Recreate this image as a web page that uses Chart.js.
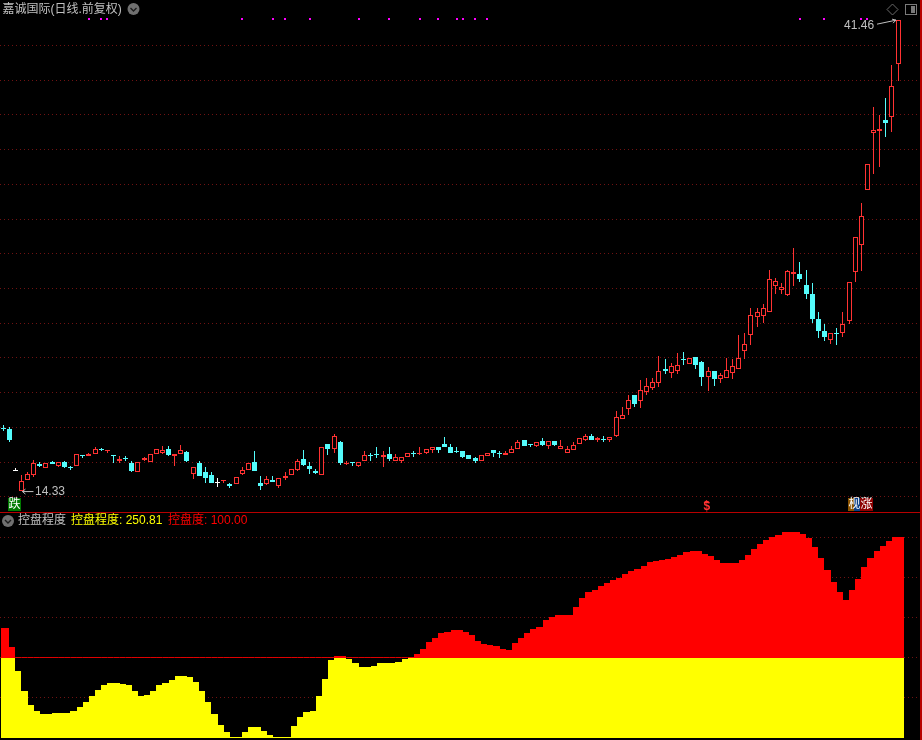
<!DOCTYPE html>
<html>
<head>
<meta charset="utf-8">
<title>嘉诚国际</title>
<script src="https://cdn.jsdelivr.net/npm/chart.js@4/dist/chart.umd.js"></script>
<style>
  html, body { margin: 0; padding: 0; background: #000; }
  canvas { position: absolute; left: 0; }
  #price { top: 0; }
  #control { top: 513px; }
</style>
</head>
<body>
<canvas id="price" width="922" height="513"></canvas>
<canvas id="control" width="922" height="227"></canvas>
<script>
var opens = [17.97,17.93,15.55,14.33,14.96,15.26,15.90,15.65,16.03,15.76,16.03,15.71,15.78,16.42,16.36,16.49,16.74,16.61,16.40,16.07,
  16.22,15.92,15.42,16.11,15.99,16.49,16.55,16.76,16.36,16.45,16.57,15.30,15.92,15.40,15.28,14.84,14.95,14.75,14.73,15.34,
  15.57,16.03,14.82,14.73,14.99,14.65,15.07,15.24,15.53,16.15,15.75,15.46,15.23,17.07,16.73,17.13,15.90,16.00,15.75,16.04,
  16.40,16.46,16.27,16.44,16.04,16.04,16.27,16.50,16.46,16.50,16.67,16.84,17.07,16.84,16.65,16.61,16.38,16.21,16.04,16.34,
  16.67,16.54,16.40,16.55,16.78,17.30,17.02,16.90,17.19,16.90,17.19,16.78,16.55,16.67,17.07,17.25,17.48,17.25,17.32,17.25,
  17.53,18.47,19.03,19.89,19.51,20.03,20.26,20.55,21.39,21.12,21.22,21.93,21.64,22.08,21.74,20.89,21.27,20.78,20.87,21.16,
  21.39,22.39,23.35,24.33,24.39,24.67,26.13,25.90,25.65,26.86,26.81,26.23,25.71,24.27,23.58,23.06,23.46,23.41,24.10,26.94,
  28.50,31.67,34.95,35.06,35.68,35.87,38.94];
var highs = [18.11,18.01,15.67,15.28,15.42,16.13,16.00,15.96,16.09,16.03,16.09,15.80,16.47,16.42,16.51,16.84,16.82,16.72,16.40,16.36,
  16.34,16.07,15.98,16.30,16.49,16.78,16.95,16.90,16.49,17.01,16.61,15.74,16.09,15.71,15.40,15.11,14.97,14.82,15.15,15.69,
  15.96,16.61,15.17,15.20,15.20,15.09,15.40,15.63,16.15,16.67,15.98,15.58,16.84,17.07,17.59,17.19,16.04,16.00,15.98,16.61,
  16.50,16.84,16.61,16.84,16.44,16.32,16.55,16.61,16.84,16.77,16.84,16.84,17.42,17.02,16.84,16.61,16.38,16.27,16.38,16.55,
  16.67,16.61,16.61,16.90,17.30,17.30,17.07,17.13,17.36,17.19,17.19,17.25,16.90,17.13,17.36,17.59,17.59,17.42,17.48,17.42,
  18.95,19.20,19.84,19.89,20.70,20.82,20.82,22.14,21.91,21.68,22.26,22.37,22.00,22.08,21.85,21.45,21.27,21.16,22.02,21.91,
  23.35,23.41,24.90,24.85,25.13,27.04,26.63,26.29,27.09,28.36,27.55,27.09,26.29,24.67,23.98,23.46,23.75,24.62,26.35,28.99,
  30.95,33.18,36.48,36.02,36.95,38.90,41.46];
var lows = [17.78,17.15,15.55,14.33,14.94,15.13,15.71,15.65,15.88,15.74,15.67,15.57,15.78,16.22,16.36,16.45,16.63,16.51,15.94,15.94,
  16.09,15.40,15.42,16.09,15.99,16.45,16.49,16.34,15.80,16.45,16.03,15.05,15.19,14.82,14.82,14.59,14.82,14.53,14.73,15.23,
  15.55,15.46,14.42,14.69,14.88,14.53,14.99,15.24,15.49,15.75,15.29,15.29,15.23,16.38,16.55,15.86,15.81,15.75,15.69,16.04,
  16.09,16.21,15.69,16.09,16.04,15.92,16.27,16.32,16.38,16.44,16.55,16.50,16.84,16.55,16.55,16.21,16.15,15.92,16.04,16.34,
  16.32,16.21,16.40,16.55,16.78,16.90,16.84,16.84,16.90,16.78,16.90,16.78,16.50,16.67,17.07,17.19,17.30,17.13,17.13,17.13,
  17.47,18.47,18.69,19.15,19.09,19.89,20.13,20.32,21.05,20.82,21.05,21.62,21.64,21.39,20.41,20.07,20.41,20.58,20.87,20.76,
  21.39,21.91,22.72,23.81,24.04,24.62,25.71,25.71,25.54,26.17,26.40,25.37,24.04,23.12,22.95,22.83,22.77,23.23,23.98,26.40,
  27.00,31.67,32.59,32.99,34.72,34.99,37.98];
var closes = [17.93,17.30,15.55,14.92,15.32,15.96,15.80,15.96,15.88,16.01,15.71,15.67,16.47,16.38,16.44,16.78,16.70,16.72,16.36,16.15,
  16.18,15.46,15.98,16.22,16.49,16.76,16.70,16.40,16.49,16.70,16.09,15.74,15.19,15.11,14.82,14.84,14.97,14.61,15.15,15.55,
  15.96,15.51,14.65,15.03,14.88,15.09,15.20,15.63,16.09,15.81,15.58,15.35,16.84,16.78,17.48,15.92,15.96,15.94,15.98,16.38,
  16.36,16.40,16.38,16.15,16.27,16.32,16.55,16.46,16.50,16.77,16.84,16.67,16.84,16.55,16.61,16.32,16.15,16.04,16.38,16.55,
  16.50,16.50,16.55,16.78,17.13,16.90,16.96,17.13,16.96,17.19,16.96,16.90,16.78,16.96,17.36,17.48,17.30,17.36,17.28,17.42,
  18.61,18.72,19.55,19.32,20.13,20.36,20.59,21.22,21.22,21.51,21.62,21.89,21.97,21.57,20.89,21.27,20.81,20.99,21.33,21.56,
  22.02,22.83,24.50,24.67,24.90,26.52,26.46,26.06,26.98,26.96,26.52,25.71,24.27,23.58,23.18,23.41,23.41,23.93,26.35,28.99,
  30.19,33.18,35.14,35.20,35.51,37.67,41.46];
var controlValues = [136.9,113.1,83.1,58.1,40.6,33.1,29.4,29.4,30.6,30.6,30.6,33.1,38.2,44.4,51.9,59.4,65.6,68.1,68.1,66.9,
  65.6,58.1,51.9,53.1,58.1,65.6,68.1,71.9,76.9,76.9,75.6,69.4,58.1,44.4,29.4,15.6,6.9,0.6,0.6,6.9,
  13.1,13.1,8.1,3.1,0.6,0.6,0.6,14.4,25.6,31.9,33.1,51.9,73.1,96.9,101.9,101.9,98.1,93.1,88.1,88.1,
  89.4,93.1,93.1,93.1,94.4,98.1,100.6,104.4,110.6,119.4,124.4,130.6,131.9,134.4,134.4,131.9,128.1,120.6,116.9,115.6,
  114.4,110.6,109.4,118.1,124.4,130.6,135.6,138.1,146.9,150.6,153.1,153.1,153.1,163.1,174.4,181.9,184.4,189.4,193.1,196.9,
  199.4,204.4,208.1,210.6,214.4,219.4,220.6,221.9,223.1,225.6,228.1,231.9,233.1,233.1,229.4,226.9,221.9,218.1,218.1,218.1,
  221.9,228.1,235.6,241.9,246.9,250.6,253.1,256.9,256.9,256.9,254.4,249.4,238.1,224.4,209.4,194.4,181.9,171.9,184.4,198.1,
  213.1,224.4,233.1,239.4,245.6,250.81,250.81];
var controlLine = 100;
var signalDays = [14,16,17,39,44,46,50,58,63,68,71,74,75,77,79,130,134,140,141];
var signalPrice = 41.5;
var priceTicks = [14,16,18,20,22,24,26,28,30,32,34,36,38,40];
var controlTicks = [50,100,150,200,250];

var SLOTS = 150;
var RED = '#ff3232', CYAN = '#54fcfc', WHITE = '#ffffff';
var GRID = '#701212', EDGE = '#b80000', GREY = '#c0c0c0';
var FONT = "12px 'Liberation Sans','Noto Sans CJK SC'";

var labels = [];
for (var s = 0; s < SLOTS; s++) labels.push(s < opens.length ? 'D' + (s + 1) : '');

function candleColor(i) {
  if (closes[i] > opens[i]) return RED;
  if (closes[i] < opens[i]) return CYAN;
  return WHITE;
}
var colors = opens.map(function (o, i) { return candleColor(i); });
var bodyFills = colors.map(function (c) { return c === RED ? '#000000' : c; });

// whole pixels, otherwise the 1px borders go soft
var snapCandles = {
  id: 'snapCandles',
  afterDatasetsUpdate: function (chart) {
    chart.getSortedVisibleDatasetMetas().forEach(function (meta) {
      meta.data.forEach(function (el) {
        if (el.skip) return;
        if (meta.type === 'line') {
          el.x = Math.round(el.x);
          el.y = Math.round(el.y);
          return;
        }
        el.x = Math.floor(el.x) + 0.5;
        el.y = Math.round(el.y);
        el.base = Math.round(el.base);
        if (el.y === el.base) el.base = el.y + 1;
      });
    });
  }
};

// the area steps start on a candle's centre and run to the next one
var snapSteps = {
  id: 'snapSteps',
  afterDatasetsUpdate: function (chart) {
    var band = chart.chartArea.width / SLOTS;
    chart.getSortedVisibleDatasetMetas().forEach(function (meta) {
      if (meta.type !== 'bar') return;
      meta.data.forEach(function (el, i) {
        var left = i === 0 ? 1 : Math.round(el.x);
        var right = Math.round(el.x + band);
        el.x = (left + right) / 2;
        el.width = right - left;
        el.y = Math.round(el.y);
        el.base = Math.round(el.base);
      });
    });
  }
};

function drawBadge(ctx, cx, cy) {
  ctx.beginPath();
  ctx.arc(cx, cy, 6, 0, Math.PI * 2);
  ctx.fillStyle = '#707070';
  ctx.fill();
  ctx.beginPath();
  ctx.moveTo(cx - 3, cy - 1);
  ctx.lineTo(cx, cy + 2);
  ctx.lineTo(cx + 3, cy - 1);
  ctx.strokeStyle = '#1c1c1c';
  ctx.lineWidth = 1.4;
  ctx.stroke();
  ctx.lineWidth = 1;
}

function tagBox(ctx, x, w, color) {
  ctx.fillStyle = color;
  ctx.fillRect(x, 498, w, 13);
}

var priceNotes = {
  id: 'priceNotes',
  afterDraw: function (chart) {
    var ctx = chart.ctx;
    var xs = chart.scales.x, ys = chart.scales.y;
    ctx.save();
    ctx.font = FONT;
    ctx.textBaseline = 'middle';
    ctx.fillStyle = GREY;
    ctx.fillText('嘉诚国际(日线.前复权)', 2.5, 9.5);
    drawBadge(ctx, 133.5, 9);

    // diamond and panel buttons, top right
    ctx.strokeStyle = '#6a6a6a';
    ctx.beginPath();
    ctx.moveTo(892.5, 4); ctx.lineTo(898, 9.5); ctx.lineTo(892.5, 15); ctx.lineTo(887, 9.5); ctx.closePath();
    ctx.stroke();
    ctx.strokeStyle = '#7a7a7a';
    ctx.strokeRect(905.5, 4.5, 11, 10);
    ctx.fillStyle = '#7a7a7a';
    ctx.fillRect(911, 6, 4, 7);

    // high / low notes
    var hiIdx = highs.indexOf(Math.max.apply(null, highs));
    var loIdx = lows.indexOf(Math.min.apply(null, lows));
    var hx = xs.getPixelForValue(hiIdx), hy = ys.getPixelForValue(highs[hiIdx]);
    var lx = xs.getPixelForValue(loIdx), ly = ys.getPixelForValue(lows[loIdx]);
    ctx.fillStyle = GREY;
    ctx.strokeStyle = GREY;
    ctx.fillText(highs[hiIdx].toFixed(2), hx - 54, hy + 6);
    ctx.beginPath();
    ctx.moveTo(hx - 21, hy + 4); ctx.lineTo(hx - 2, hy);
    ctx.moveTo(hx - 6, hy - 1); ctx.lineTo(hx - 2, hy); ctx.lineTo(hx - 5, hy + 3);
    ctx.stroke();
    ctx.fillText(lows[loIdx].toFixed(2), lx + 13.5, ly + 1);
    ctx.beginPath();
    ctx.moveTo(lx + 12, ly + 0.5); ctx.lineTo(lx + 1, ly + 0.5);
    ctx.moveTo(lx + 4, ly - 2); ctx.lineTo(lx + 1, ly + 0.5); ctx.lineTo(lx + 4, ly + 3);
    ctx.stroke();

    // signal tags above the divider
    tagBox(ctx, 8, 13, '#007a00');
    ctx.fillStyle = WHITE;
    ctx.fillText('跌', 8.5, 505);
    tagBox(ctx, 848, 6, '#8a5200');
    tagBox(ctx, 854, 6, '#0a3f86');
    tagBox(ctx, 860, 13, '#8c0000');
    ctx.fillStyle = WHITE;
    ctx.fillText('枧', 848.5, 505);
    ctx.fillText('涨', 860.5, 505);
    ctx.fillStyle = RED;
    ctx.font = "bold 12px 'Liberation Sans'";
    ctx.fillText('$', 703.5, 506.5);
    ctx.beginPath();
    ctx.moveTo(706.5, 500); ctx.lineTo(709.5, 503); ctx.lineTo(703.5, 503); ctx.closePath();
    ctx.fill();

    // divider and right edge
    ctx.fillStyle = EDGE;
    ctx.fillRect(0, 512, 922, 1);
    ctx.fillRect(920, 0, 2, 513);
    ctx.restore();
  }
};

var controlNotes = {
  id: 'controlNotes',
  afterDraw: function (chart) {
    var ctx = chart.ctx;
    var last = controlValues[controlValues.length - 1];
    ctx.save();
    ctx.font = FONT;
    ctx.textBaseline = 'middle';
    drawBadge(ctx, 8, 8);
    ctx.fillStyle = GREY;
    ctx.fillText('控盘程度', 18, 7.5);
    ctx.fillStyle = '#ffff00';
    ctx.fillText('控盘程度: ' + last.toFixed(2), 71, 7.5);
    ctx.fillStyle = '#ff0000';
    ctx.fillText('控盘度: ' + controlLine.toFixed(2), 168, 7.5);
    ctx.fillStyle = EDGE;
    ctx.fillRect(920, 0, 2, 227);
    ctx.restore();
  }
};

function baseOptions(yMin, yMax, ticks, bottomPad) {
  return {
    responsive: false,
    animation: false,
    devicePixelRatio: 1,
    events: [],
    layout: { autoPadding: false, padding: { left: 0, right: 2.5, top: 0, bottom: bottomPad } },
    plugins: { legend: { display: false }, tooltip: { enabled: false }, title: { display: false } },
    scales: {
      x: { type: 'category', display: false, offset: true },
      y: {
        type: 'linear',
        min: yMin,
        max: yMax,
        ticks: { display: false },
        border: { display: false, dash: [1, 3] },
        grid: { color: GRID, drawTicks: false },
        afterBuildTicks: function (axis) {
          axis.ticks = ticks.map(function (v) { return { value: v }; });
        }
      }
    }
  };
}

new Chart(document.getElementById('price').getContext('2d'), {
  type: 'bar',
  plugins: [snapCandles, priceNotes],
  data: {
    labels: labels,
    datasets: [
      {
        type: 'line',
        label: 'signal',
        data: labels.map(function (l, i) { return signalDays.indexOf(i) >= 0 ? signalPrice : null; }),
        showLine: false,
        pointStyle: 'rect',
        pointRadius: 1.42,
        pointBorderWidth: 0,
        pointBackgroundColor: '#ff00ff'
      },
      {
        label: 'body',
        data: opens.map(function (o, i) { return [o, closes[i]]; }),
        grouped: false,
        barThickness: 5,
        borderWidth: 1,
        borderSkipped: false,
        inflateAmount: 0,
        backgroundColor: bodyFills,
        borderColor: colors
      },
      {
        label: 'wick',
        data: lows.map(function (l, i) { return [l, highs[i]]; }),
        grouped: false,
        barThickness: 1,
        borderWidth: 0,
        inflateAmount: 0,
        backgroundColor: colors
      }
    ]
  },
  options: baseOptions(13.124, 42.621, priceTicks, 1)
});

new Chart(document.getElementById('control').getContext('2d'), {
  type: 'bar',
  plugins: [snapSteps, controlNotes],
  data: {
    labels: labels,
    datasets: [
      {
        label: '控盘程度',
        data: controlValues.map(function (v) { return Math.min(v, controlLine); }),
        grouped: false,
        barPercentage: 1,
        categoryPercentage: 1,
        borderWidth: 0,
        inflateAmount: 0,
        backgroundColor: '#ffff00'
      },
      {
        label: '控盘程度上',
        data: controlValues,
        grouped: false,
        barPercentage: 1,
        categoryPercentage: 1,
        borderWidth: 0,
        inflateAmount: 0,
        backgroundColor: '#ff0000'
      },
      {
        type: 'line',
        label: '控盘度',
        data: controlValues.map(function () { return controlLine; }),
        borderColor: '#e00000',
        borderWidth: 1,
        pointRadius: 0
      }
    ]
  },
  options: baseOptions(-3.125, 280.625, controlTicks, 0)
});
</script>
</body>
</html>
